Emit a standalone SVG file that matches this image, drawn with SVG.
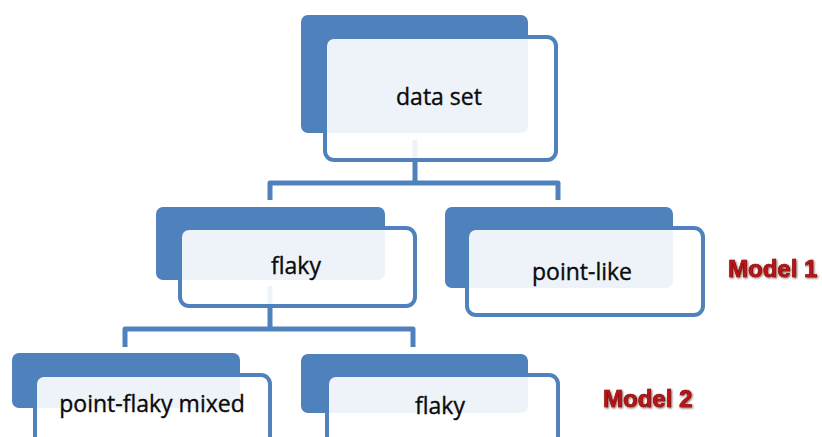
<svg xmlns="http://www.w3.org/2000/svg" width="822" height="437" viewBox="0 0 822 437">
  <defs>
    <style>
      .back { fill: #4F81BD; }
      .front { fill: #FFFFFF; fill-opacity: 0.9; stroke: #4F81BD; stroke-width: 4; }
      .label { font-family: "Open Sans", "Liberation Sans", sans-serif; font-size: 23px; fill: #0A0A0A; stroke: #0A0A0A; stroke-width: 0.35; text-anchor: middle; }
      .model { font-family: "Liberation Sans", Arial, sans-serif; font-weight: bold; font-size: 24px; fill: #B81818; stroke: #8A0000; stroke-width: 0.6; filter: url(#shadow); }
      .conn { fill: none; stroke: #4F81BD; stroke-width: 5; stroke-linejoin: round; }
    </style>
    <filter id="shadow" x="-10%" y="-30%" width="120%" height="160%">
      <feDropShadow dx="1" dy="1" stdDeviation="1" flood-color="#400000" flood-opacity="0.7"/>
    </filter>
  </defs>

  <rect width="822" height="437" fill="#FFFFFF"/>

  <!-- tree connectors, drawn under the boxes -->
  <g id="connectors">
    <path class="conn" d="M415,140 V183"/>
    <path class="conn" d="M270,200 V183 H558 V200"/>
    <path class="conn" d="M270,286 V329"/>
    <path class="conn" d="M125,347 V329 H413 V347"/>
  </g>

  <g id="node-dataset">
    <rect class="back" x="301" y="15" width="227" height="118" rx="7"/>
    <rect class="front" x="325" y="37" width="231" height="123" rx="9"/>
    <text class="label" x="439" y="105">data set</text>
  </g>

  <g id="node-flaky">
    <rect class="back" x="156" y="207" width="229" height="73" rx="7"/>
    <rect class="front" x="180" y="228" width="235" height="78" rx="9"/>
    <text class="label" x="296" y="274">flaky</text>
  </g>

  <g id="node-pointlike">
    <rect class="back" x="445" y="207" width="228" height="81" rx="7"/>
    <rect class="front" x="467" y="228" width="236" height="87" rx="9"/>
    <text class="label" x="582" y="280">point-like</text>
  </g>

  <g id="node-mixed">
    <rect class="back" x="12" y="353" width="228" height="55" rx="7"/>
    <rect class="front" x="35" y="375" width="235" height="80" rx="9"/>
    <text class="label" x="152" y="412">point-flaky mixed</text>
  </g>

  <g id="node-flaky2">
    <rect class="back" x="301" y="354" width="227" height="59" rx="7"/>
    <rect class="front" x="327" y="375" width="231" height="80" rx="9"/>
    <text class="label" x="440" y="414">flaky</text>
  </g>

  <g id="model-labels">
    <text class="model" x="728" y="277">Model 1</text>
    <text class="model" x="603" y="407">Model 2</text>
  </g>
</svg>
